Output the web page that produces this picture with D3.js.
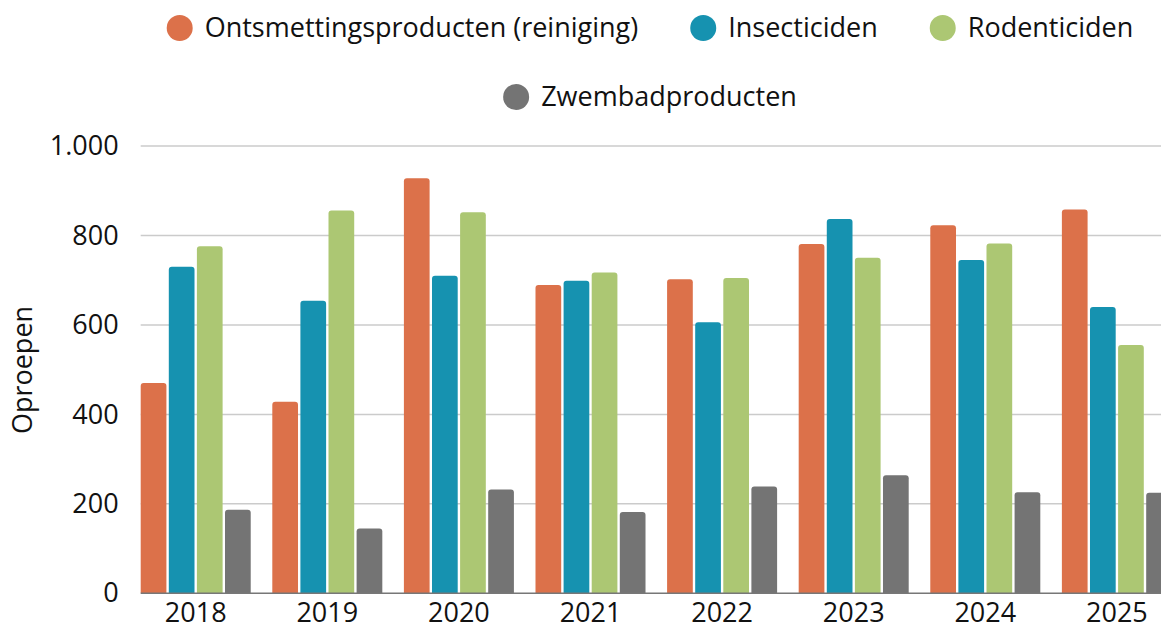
<!DOCTYPE html>
<html><head><meta charset="utf-8">
<script src="https://cdn.jsdelivr.net/npm/d3@7"></script>
<style>
html,body{margin:0;padding:0;background:#fff;}
svg{display:block;font-family:"Open Sans",sans-serif;}
</style></head>
<body><svg id="c" width="1161" height="629"></svg>
<script>
const years = ["2018","2019","2020","2021","2022","2023","2024","2025"];
const seriesNames = ["Ontsmettingsproducten (reiniging)","Insecticiden","Rodenticiden","Zwembadproducten"];
const seriesColors = ["#dc714a","#1692b0","#acc773","#747474"];
const ontsmetting = [470, 428, 928, 689, 702, 781, 823, 858];
const insecticiden = [730, 654, 710, 699, 606, 837, 745, 640];
const rodenticiden = [776, 856, 852, 717, 705, 750, 782, 555];
const zwembad = [187, 145, 232, 182, 239, 264, 226, 225];
const yTicks = [0, 200, 400, 600, 800, 1000];
const yLabel = "Oproepen";

(function(){
const seriesValues = [ontsmetting, insecticiden, rodenticiden, zwembad];
const svg = d3.select("#c");
const plotLeft = 140.7, plotBottom = 593.3, plotTop = 146;
const y = d3.scaleLinear().domain([0,1000]).range([plotBottom, plotTop]);
const x0 = d3.scaleBand().domain(years).range([plotLeft, plotLeft + 1031.2]).paddingInner(0.164).paddingOuter(0);
const x1 = d3.scaleBand().domain(d3.range(4)).range([0, x0.bandwidth()]).paddingInner(0.085);
const fmt = d3.formatLocale({decimal:",", thousands:".", grouping:[3], currency:["€",""]}).format(",");

const yAxis = d3.axisLeft(y).tickValues(yTicks).tickFormat(fmt).tickSize(0).tickPadding(22);
const ga = svg.append("g").attr("transform",`translate(${plotLeft},0)`).call(yAxis);
ga.select(".domain").remove();
ga.selectAll("text").attr("font-size",27).attr("fill","#111").attr("font-family","'Open Sans',sans-serif");
svg.append("g").selectAll("line").data(yTicks.filter(d=>d>0)).join("line")
  .attr("x1",plotLeft).attr("x2",1161).attr("y1",d=>y(d)).attr("y2",d=>y(d))
  .attr("stroke","#cbcbcb").attr("stroke-width",1.5);

const groups = svg.append("g").selectAll("g").data(years).join("g")
  .attr("transform",d=>`translate(${x0(d)},0)`);
function topRound(xp, yp, w, h, r){
  r = Math.min(r, h, w/2);
  return `M${xp},${yp+h}V${yp+r}Q${xp},${yp} ${xp+r},${yp}H${xp+w-r}Q${xp+w},${yp} ${xp+w},${yp+r}V${yp+h}Z`;
}
groups.selectAll("path").data((d,i)=>seriesValues.map((s,k)=>({k, v:s[i]}))).join("path")
  .attr("d",d=>topRound(x1(d.k), y(d.v), x1.bandwidth(), plotBottom - y(d.v), 3))
  .attr("fill",d=>seriesColors[d.k]);

svg.append("line").attr("x1",plotLeft).attr("x2",1161).attr("y1",plotBottom).attr("y2",plotBottom)
  .attr("stroke","#777").attr("stroke-width",1.5);

const xAxis = d3.axisBottom(x0).tickSize(0).tickPadding(10);
const gx = svg.append("g").attr("transform",`translate(0,${plotBottom})`).call(xAxis);
gx.select(".domain").remove();
gx.selectAll("text").attr("font-size",27).attr("fill","#111").attr("font-family","'Open Sans',sans-serif");

svg.append("text").attr("transform","translate(32,370) rotate(-90)").attr("text-anchor","middle")
  .attr("font-size",27).attr("fill","#111").text(yLabel);

const legendRows = [[0,1,2],[3]];
const rowY = [28, 97];
const cx = 650, r = 13, gapT = 12, itemGap = 52;
legendRows.forEach((row, ri) => {
  const g = svg.append("g");
  const items = row.map(k => {
    const t = g.append("text").attr("font-size",27).attr("fill","#111").text(seriesNames[k]);
    return {k, t, w: t.node().getComputedTextLength()};
  });
  const total = d3.sum(items, d => 2*r + gapT + d.w) + itemGap*(items.length-1);
  let xx = cx - total/2;
  items.forEach(it => {
    g.append("circle").attr("cx", xx + r).attr("cy", rowY[ri]).attr("r", r).attr("fill", seriesColors[it.k]);
    it.t.attr("x", xx + 2*r + gapT).attr("y", rowY[ri]).attr("dy","0.35em");
    xx += 2*r + gapT + it.w + itemGap;
  });
});
})();
</script></body></html>
